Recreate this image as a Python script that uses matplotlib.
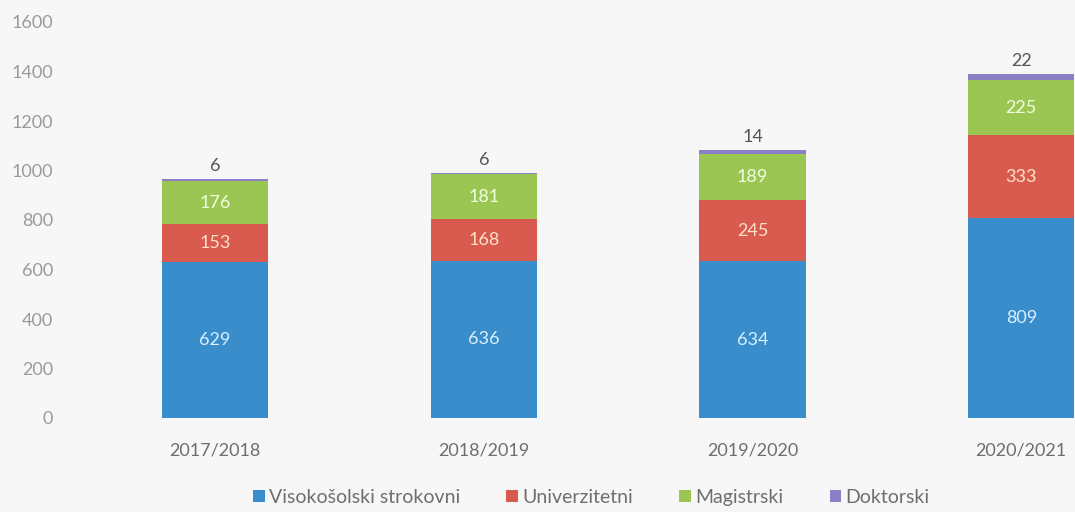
import matplotlib.pyplot as plt
import numpy as np

plt.rcParams['font.family'] = ['Lato', 'DejaVu Sans']

years = ['2017/2018', '2018/2019', '2019/2020', '2020/2021']
visokosolski = [629, 636, 634, 809]
univerzitetni = [153, 168, 245, 333]
magistrski = [176, 181, 189, 225]
doktorski = [6, 6, 14, 22]

series = [
    ('Visokošolski strokovni', visokosolski, '#3a8dcb', '#d8f0ff'),
    ('Univerzitetni', univerzitetni, '#d95b4f', '#ffe0c8'),
    ('Magistrski', magistrski, '#9cc653', '#f0ffe0'),
    ('Doktorski', doktorski, '#8b80c6', None),
]

fig = plt.figure(figsize=(10.75, 5.12), dpi=100, facecolor='#f7f7f7')
ax = fig.add_axes([70 / 1075, 94 / 512, 1 - 70 / 1075, 396 / 512])
ax.set_facecolor('#f7f7f7')

x = np.arange(len(years))
width = 0.395
bottom = np.zeros(len(years))
for name, vals, color, txt in series:
    vals = np.array(vals)
    ax.bar(x, vals, width, bottom=bottom, color=color, label=name)
    for xi, b, v in zip(x, bottom, vals):
        if txt:
            ax.text(xi, b + v / 2, str(v), ha='center', va='center',
                    color=txt, fontsize=13)
        else:
            ax.text(xi, b + v + 20, str(v), ha='center', va='bottom',
                    color='#555555', fontsize=13)
    bottom += vals

ax.set_xlim(-0.54, 3.2)
ax.set_ylim(0, 1600)
ax.set_yticks(range(0, 1601, 200))
ax.set_xticks(x)
ax.set_xticklabels(years)
ax.tick_params(length=0, colors='#9a9a9a', labelsize=13)
ax.tick_params(axis='x', pad=18, colors='#6e6e6e')
ax.tick_params(axis='y', pad=12)
for s in ax.spines.values():
    s.set_visible(False)

fig.legend(loc='center', bbox_to_anchor=(0.55, 0.028), ncol=4, frameon=False,
           fontsize=14, handlelength=0.6, handleheight=0.6, handletextpad=0.2,
           columnspacing=2.4, labelcolor='#6e6e6e', borderpad=0.1)

fig.savefig('out.png', dpi=100, facecolor=fig.get_facecolor())
